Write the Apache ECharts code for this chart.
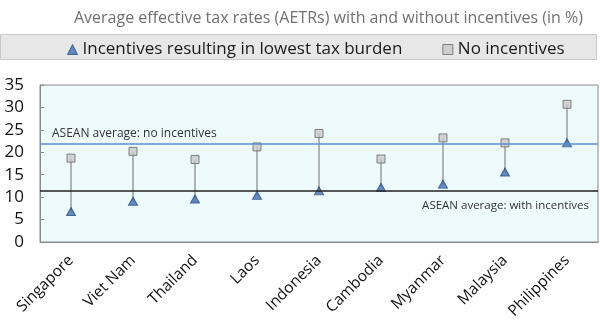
<!DOCTYPE html>
<html><head><meta charset="utf-8">
<script src="https://cdn.jsdelivr.net/npm/echarts@6/dist/echarts.min.js"></script>
<style>html,body{margin:0;padding:0;background:#fff}#c{width:600px;height:328px}</style>
</head><body><div id="c"></div>
<script>
const categories = ['Singapore','Viet Nam','Thailand','Laos','Indonesia','Cambodia','Myanmar','Malaysia','Philippines'];
const withIncentives = [6.8, 9.1, 9.6, 10.4, 11.4, 12.2, 12.9, 15.6, 22.1];
const noIncentives = [18.7, 20.2, 18.4, 21.2, 24.2, 18.5, 23.2, 22.1, 30.7];
const avgNoIncentives = 22.0;
const avgWithIncentives = 11.4;
const yTicks = [0, 5, 10, 15, 20, 25, 30, 35];

const font = '"Open Sans", "Noto Sans", sans-serif';
const chart = echarts.init(document.getElementById('c'));
const rangeData = categories.map((c, i) => [i, withIncentives[i], noIncentives[i]]);

chart.setOption({
  animation: false,
  title: {
    text: 'Average effective tax rates (AETRs) with and without incentives (in %)',
    right: 12, top: 5,
    textStyle: { fontFamily: font, fontSize: 16, fontWeight: 'normal', color: '#707070' }
  },
  graphic: [{
    type: 'rect', left: 0, top: 34, z: 0,
    shape: { width: 596, height: 25 },
    style: { fill: '#e7e7e7', stroke: '#c8c8c8', lineWidth: 1 }
  }],
  legend: {
    top: 36, left: 62, itemGap: 40, itemWidth: 10, itemHeight: 10,
    textStyle: { fontFamily: font, fontSize: 17, color: '#1a1a1a' },
    data: [
      { name: 'Incentives resulting in lowest tax burden', icon: 'triangle', itemStyle: { color: '#3f6fb5', borderColor: '#2a4f80', borderWidth: 1 } },
      { name: 'No incentives', icon: 'rect', itemStyle: { color: '#c8c8c8', borderColor: '#666', borderWidth: 1 } }
    ]
  },
  grid: { left: 40, right: 2, top: 85, bottom: 86, show: true, backgroundColor: '#eefbfd', borderColor: '#8a8a8a', borderWidth: 1 },
  xAxis: {
    type: 'category', data: categories, boundaryGap: true,
    axisLine: { lineStyle: { color: '#8a8a8a' } },
    axisTick: { inside: true, length: 5, lineStyle: { color: '#8a8a8a' } },
    axisLabel: { rotate: 45, fontFamily: font, fontSize: 15.5, color: '#111', margin: 16, interval: 0 }
  },
  yAxis: {
    type: 'value', min: 0, max: 35, interval: 5,
    axisLine: { show: true, lineStyle: { color: '#8a8a8a' } },
    axisTick: { show: true, inside: true, length: 4, lineStyle: { color: '#8a8a8a' } },
    splitLine: { show: false },
    axisLabel: { fontFamily: font, fontSize: 17, color: '#111', margin: 16,
      formatter: v => yTicks.includes(v) ? String(v) : '' }
  },
  series: [
    {
      type: 'custom', name: 'range', silent: true, z: 2,
      data: rangeData,
      renderItem: (params, api) => {
        const a = api.coord([api.value(0), api.value(1)]);
        const b = api.coord([api.value(0), api.value(2)]);
        return { type: 'line', shape: { x1: a[0], y1: a[1], x2: b[0], y2: b[1] }, style: { stroke: '#6e6e6e', lineWidth: 1 } };
      },
      markLine: {
        silent: true, symbol: 'none',
        data: [
          { yAxis: avgNoIncentives, lineStyle: { color: '#5b8fd0', width: 1.5, type: 'solid' },
            label: { show: true, position: 'insideStartTop', formatter: 'ASEAN average: no incentives', fontFamily: font, fontSize: 12, color: '#333', distance: [12, 4] } },
          { yAxis: avgWithIncentives, lineStyle: { color: '#222', width: 1.5, type: 'solid' },
            label: { show: true, position: 'insideEndBottom', formatter: 'ASEAN average: with incentives', fontFamily: font, fontSize: 11.5, color: '#333', distance: [9, 9] } }
        ]
      }
    },
    {
      type: 'scatter', name: 'No incentives', data: noIncentives, symbol: 'rect', symbolSize: 8, z: 4,
      itemStyle: { color: '#c8c8c8', borderColor: '#666', borderWidth: 1 }
    },
    {
      type: 'scatter', name: 'Incentives resulting in lowest tax burden', data: withIncentives, symbol: 'triangle', symbolSize: [9, 8], z: 4,
      itemStyle: { color: '#3f6fb5', borderColor: '#2a4f80', borderWidth: 1 }
    }
  ]
});
</script></body></html>
